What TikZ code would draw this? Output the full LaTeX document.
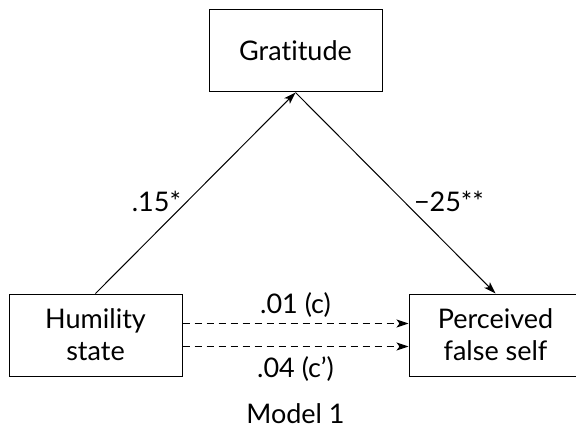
\documentclass[tikz,border=0pt]{standalone}
\usepackage{fontspec}
\setmainfont{Lato}[Ligatures=NoCommon]
\usetikzlibrary{positioning}
\usetikzlibrary{arrows.meta}

\begin{document}
\begin{tikzpicture}[x=0.5pt,y=-0.5pt,node distance=142pt and 100pt,on grid,>={Stealth[length=6pt,width=4pt,inset=1.5pt]},
    every node/.style={font=\fontsize{13.5}{16}\selectfont},
    var/.style={draw,line width=0.5pt,minimum width=86.5pt,minimum height=41pt,align=center,inner sep=0pt}]
        \useasboundingbox (0,0) rectangle (576,427);

      \node[var]                          (gratitude) at (295.5,51) {Gratitude};
      \node[var, below left=of gratitude]  (humility)  {Humility\\state};
      \node[var, below right=of gratitude] (falseself) {Perceived\\false self};
      \node[below=181.5pt of gratitude, inner sep=0pt] (model) {Model 1};

      \path[->, line width=0.5pt]
                (humility.north)  edge node[left=7pt, yshift=-4pt, inner sep=0pt]  {.15*}   (gratitude.south)
                (gratitude.south) edge node[right=9pt, yshift=-4pt, inner sep=0pt] {−25**}  (falseself.north)
                      ;
      \path[->, line width=0.5pt, dash pattern=on 3.5pt off 2.5pt]
                ([yshift=5.75pt]humility.east)  edge node[above=2.8pt, inner sep=0pt] {.01 (c)}  ([yshift=5.75pt]falseself.west)
                ([yshift=-5.75pt]humility.east) edge node[below=4.8pt, inner sep=0pt] {.04 (c’)} ([yshift=-5.75pt]falseself.west)
                      ;
    \end{tikzpicture}
\end{document}
